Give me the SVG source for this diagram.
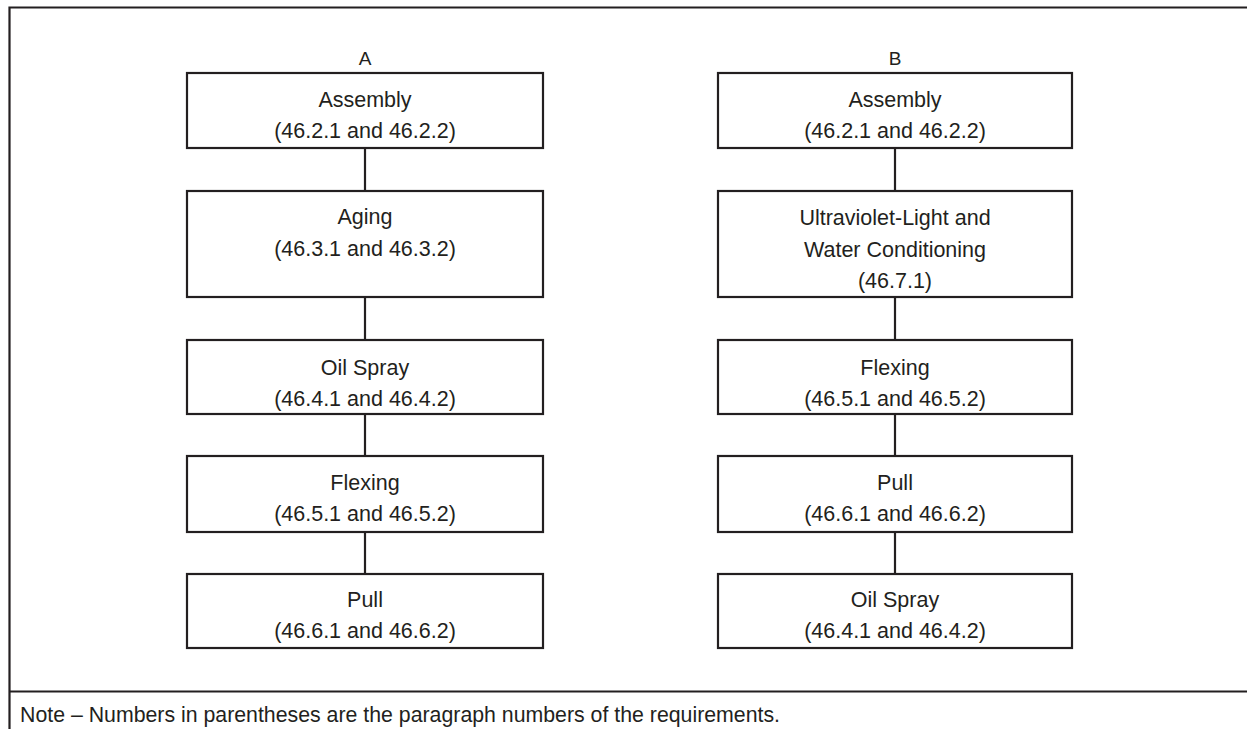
<svg xmlns="http://www.w3.org/2000/svg" width="1247" height="729" viewBox="0 0 1247 729">
<style>
.box{fill:#fff;stroke:#231f20;stroke-width:2.2}
.ln{stroke:#231f20;stroke-width:2.2;fill:none}
.t{font-family:"Liberation Sans",Arial,sans-serif;font-size:21.5px;fill:#231f20;text-anchor:middle}
.h{font-family:"Liberation Sans",Arial,sans-serif;font-size:19px;fill:#231f20;text-anchor:middle}
.n{font-family:"Liberation Sans",Arial,sans-serif;font-size:21.3px;fill:#231f20}
</style>
<rect width="1247" height="729" fill="#fff"/>
<g id="frame">
<path class="ln" d="M9.5 729 V7.5 H1247"/>
<path class="ln" d="M9.5 691.5 H1247"/>
<text class="n" x="20" y="722">Note – Numbers in parentheses are the paragraph numbers of the requirements.</text>
</g>
<g id="connectors">
<path class="ln" d="M365 148 V191 M365 297 V340 M365 414 V456 M365 532 V574"/>
<path class="ln" d="M895 148 V191 M895 297 V340 M895 414 V456 M895 532 V574"/>
</g>
<g id="headerA"><text class="h" x="365" y="65">A</text></g>
<g id="headerB"><text class="h" x="895" y="65">B</text></g>
<g id="A1"><rect class="box" x="187" y="73" width="356" height="75"/><text class="t" x="365" y="107">Assembly</text><text class="t" x="365" y="138">(46.2.1 and 46.2.2)</text></g>
<g id="A2"><rect class="box" x="187" y="191" width="356" height="106"/><text class="t" x="365" y="224">Aging</text><text class="t" x="365" y="256">(46.3.1 and 46.3.2)</text></g>
<g id="A3"><rect class="box" x="187" y="340" width="356" height="74"/><text class="t" x="365" y="375">Oil Spray</text><text class="t" x="365" y="406">(46.4.1 and 46.4.2)</text></g>
<g id="A4"><rect class="box" x="187" y="456" width="356" height="76"/><text class="t" x="365" y="490">Flexing</text><text class="t" x="365" y="521">(46.5.1 and 46.5.2)</text></g>
<g id="A5"><rect class="box" x="187" y="574" width="356" height="74"/><text class="t" x="365" y="607">Pull</text><text class="t" x="365" y="638">(46.6.1 and 46.6.2)</text></g>
<g id="B1"><rect class="box" x="718" y="73" width="354" height="75"/><text class="t" x="895" y="107">Assembly</text><text class="t" x="895" y="138">(46.2.1 and 46.2.2)</text></g>
<g id="B2"><rect class="box" x="718" y="191" width="354" height="106"/><text class="t" x="895" y="225">Ultraviolet-Light and</text><text class="t" x="895" y="257">Water Conditioning</text><text class="t" x="895" y="288">(46.7.1)</text></g>
<g id="B3"><rect class="box" x="718" y="340" width="354" height="74"/><text class="t" x="895" y="375">Flexing</text><text class="t" x="895" y="406">(46.5.1 and 46.5.2)</text></g>
<g id="B4"><rect class="box" x="718" y="456" width="354" height="76"/><text class="t" x="895" y="490">Pull</text><text class="t" x="895" y="521">(46.6.1 and 46.6.2)</text></g>
<g id="B5"><rect class="box" x="718" y="574" width="354" height="74"/><text class="t" x="895" y="607">Oil Spray</text><text class="t" x="895" y="638">(46.4.1 and 46.4.2)</text></g>
</svg>
